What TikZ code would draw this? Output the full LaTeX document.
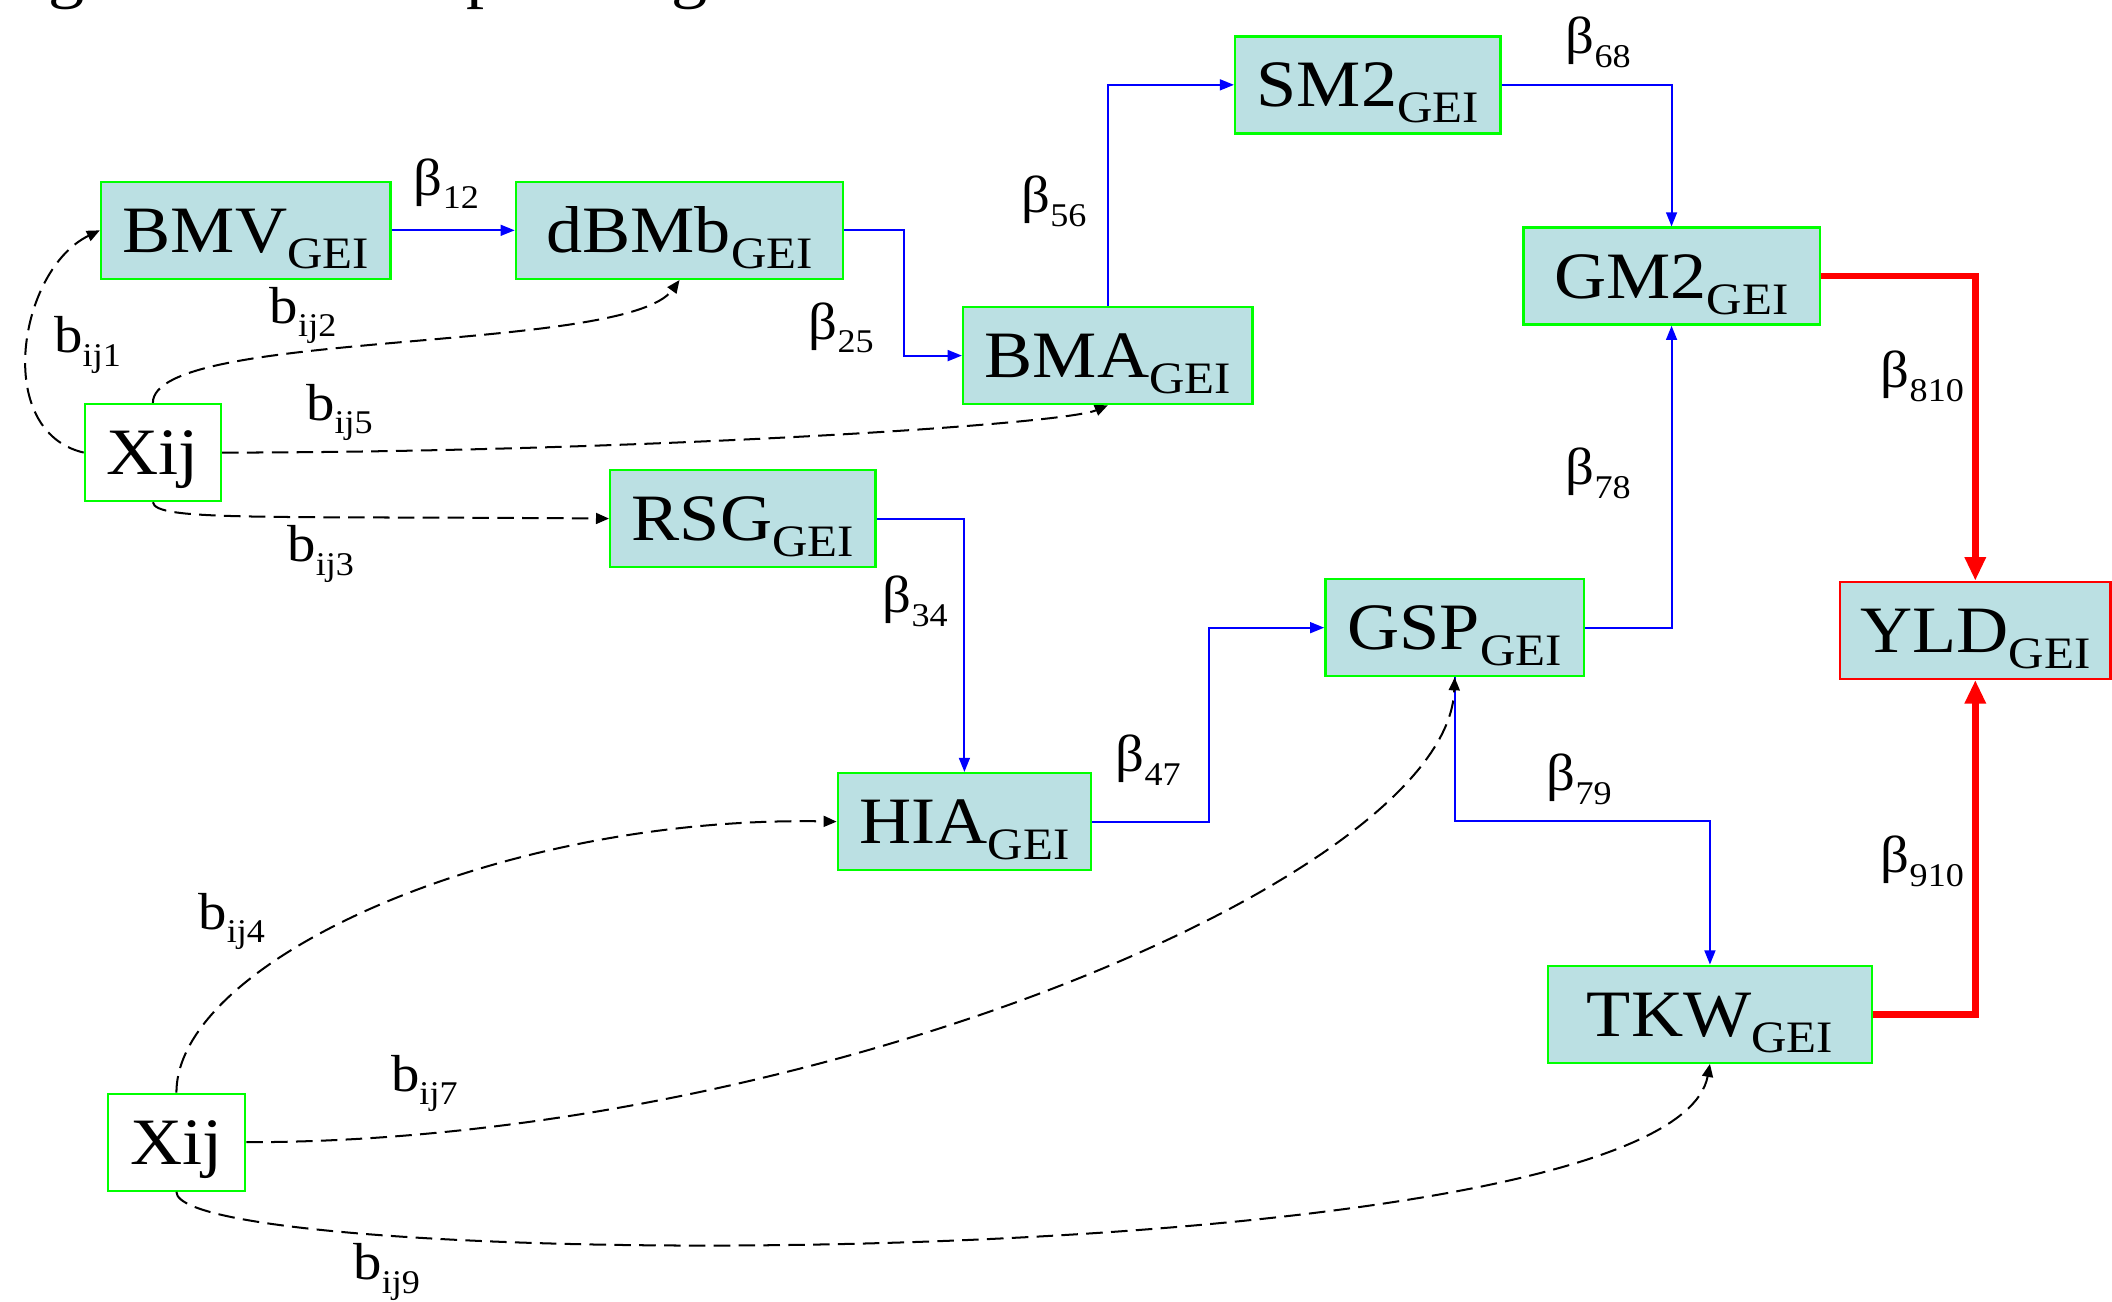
\documentclass[tikz,border=0pt]{standalone}
\usepackage{fontspec}
\setmainfont{Liberation Serif}[FakeStretch=1.09]
\usetikzlibrary{arrows.meta}
\definecolor{boxfill}{RGB}{187,224,227}
\definecolor{boxline}{RGB}{0,255,0}
% trait name with a lowered "GEI" subscript that does not change the box height
\newcommand\gei[1]{#1\raisebox{-6.8pt}[0pt][0pt]{\fontsize{19}{19}\selectfont GEI}}
% coefficient label with lowered subscript
\newcommand\coefsub[2]{#1\raisebox{-5.7pt}{\fontsize{14}{14}\selectfont #2}}
\tikzset{
  xbox/.style={draw=boxline, line width=1pt, inner sep=0pt, minimum height=1.44cm,
    text height=18.5pt, text depth=0pt, font=\fontsize{28}{28}\selectfont},
  trait/.style={xbox, fill=boxfill},
  yieldbox/.style={xbox, fill=boxfill, draw=red},
  coef/.style={inner sep=0pt, anchor=base west, font=\fontsize{22}{22}\selectfont},
  pathedge/.style={blue, line width=0.85pt, -{Triangle[length=6pt,width=4.6pt]}},
  yieldedge/.style={red, line width=2.8pt, -{Triangle[length=10pt,width=8.5pt]}},
  effectedge/.style={black, line width=0.85pt, dash pattern=on 7pt off 3.5pt,
    -{Triangle[length=5.5pt,width=4.6pt]}},
  caption/.style={inner sep=0pt, anchor=base west, font=\fontsize{28}{28}\selectfont}
}
\begin{document}
\begin{tikzpicture}[x=0.02cm, y=-0.02cm]
\useasboundingbox (0,0) rectangle (1568,966);

% caption line above the diagram (only its descenders fall inside the page)
\node[caption] (cap1) at (35.5,-3) {g};
\node[caption] (cap2) at (346,-3) {p};
\node[caption] (cap3) at (498.5,-3) {g};

% trait boxes
\node[trait, minimum width=4.30cm] (bmv)  at (182.5,171) {\gei{BMV}};
\node[trait, minimum width=4.86cm] (dbmb) at (504.5,171) {\gei{dBMb}};
\node[trait, minimum width=4.30cm] (bma)  at (822.5,264) {\gei{BMA}};
\node[trait, minimum width=3.94cm] (sm2)  at (1015.5,63) {\gei{SM2}};
\node[trait, minimum width=4.40cm] (gm2)  at (1241,205)  {\gei{GM2}};
\node[trait, minimum width=3.94cm] (rsg)  at (551.5,385) {\gei{RSG}};
\node[trait, minimum width=3.84cm] (gsp)  at (1080,466)  {\gei{GSP}};
\node[trait, minimum width=3.76cm] (hia)  at (716,610)   {\gei{HIA}};
\node[trait, minimum width=4.82cm] (tkw)  at (1269.5,753) {\gei{TKW}};
\node[yieldbox, minimum width=4.02cm] (yld) at (1466.5,468) {\gei{YLD}};

% environmental covariate boxes
\node[xbox, fill=white, minimum width=2.02cm] (x1) at (113.5,336) {Xij};
\node[xbox, fill=white, minimum width=2.04cm] (x2) at (131,848)   {Xij};

% path coefficients between traits
\draw[pathedge] (bmv) -- (dbmb);
\draw[pathedge] (dbmb.east) -- ++(44,0) |- (bma.west);
\draw[pathedge] (bma.north) |- (sm2.west);
\draw[pathedge] (sm2.east) -| (gm2.north);
\draw[pathedge] (rsg.east) -| (hia.north);
\draw[pathedge] (hia.east) -- ++(87,0) |- (gsp.west);
\draw[pathedge] (gsp.east) -| (gm2.south);
\draw[pathedge] (gsp.south) -- ++(0,107) -| (tkw.north);

% paths into yield
\draw[yieldedge] (gm2.east) -| (yld.north);
\draw[yieldedge] (tkw.east) -| (yld.south);

% covariate effects
\draw[effectedge] (x1.west) .. controls +(-68,-16) and +(-60,29) .. (bmv.west);
\draw[effectedge] (x1.north) .. controls +(0,-55) and +(-40,55) .. (dbmb.south);
\draw[effectedge] (x1.east) .. controls +(290,0) and +(-35,15) .. (bma.south);
\draw[effectedge] (x1.south) .. controls +(2,14) and +(-260,-2) .. (rsg.west);
\draw[effectedge] (x2.north) .. controls +(0,-97) and +(-252,-5) .. (hia.west);
\draw[effectedge] (x2.east) .. controls +(418,0) and +(-5,148) .. (gsp.south);
\draw[effectedge] (x2.south) .. controls +(0,61) and +(-30,161) .. (tkw.south);

% coefficient labels
\node[coef] (l12)  at (307,145)  {\coefsub{β}{12}};
\node[coef] (l25)  at (600,252)  {\coefsub{β}{25}};
\node[coef] (l56)  at (758,158)  {\coefsub{β}{56}};
\node[coef] (l68)  at (1162,40)  {\coefsub{β}{68}};
\node[coef] (l34)  at (655,455)  {\coefsub{β}{34}};
\node[coef] (l47)  at (828,573)  {\coefsub{β}{47}};
\node[coef] (l78)  at (1162,360) {\coefsub{β}{78}};
\node[coef] (l79)  at (1148,587) {\coefsub{β}{79}};
\node[coef] (l810) at (1396,288) {\coefsub{β}{810}};
\node[coef] (l910) at (1396,648) {\coefsub{β}{910}};
\node[coef] (b1) at (40,262)  {\coefsub{b}{ij1}};
\node[coef] (b2) at (200,240) {\coefsub{b}{ij2}};
\node[coef] (b5) at (227,312) {\coefsub{b}{ij5}};
\node[coef] (b3) at (213,417) {\coefsub{b}{ij3}};
\node[coef] (b4) at (147,690) {\coefsub{b}{ij4}};
\node[coef] (b7) at (290,810) {\coefsub{b}{ij7}};
\node[coef] (b9) at (262,950) {\coefsub{b}{ij9}};
\end{tikzpicture}
\end{document}
